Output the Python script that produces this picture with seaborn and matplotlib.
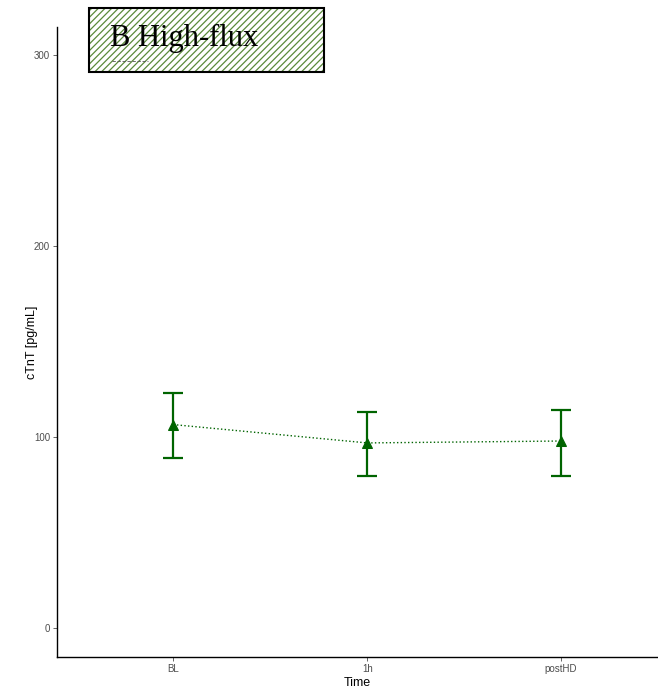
import matplotlib
matplotlib.use("Agg")
import matplotlib.pyplot as plt
import seaborn as sns
import pandas as pd
from matplotlib.patches import Rectangle

times = ["BL", "1h", "postHD"]
means = [106.5, 96.9, 97.9]
upper = [123.3, 113.3, 114.4]
lower = [89.0, 79.8, 79.8]
yticks = [0, 100, 200, 300]

sns.set_style("white")
plt.rcParams['font.family'] = ['Liberation Sans', 'DejaVu Sans']
plt.rcParams['hatch.linewidth'] = 0.9
plt.rcParams['text.color'] = 'black'
plt.rcParams['axes.labelcolor'] = 'black'

df = pd.DataFrame({"Time": times, "cTnT": means})

fig = plt.figure(figsize=(6.58, 6.92), dpi=100)
ax = fig.add_axes([57 / 658, 35 / 692, 601 / 658, 630 / 692])

green = "#006400"
sns.lineplot(data=df, x="Time", y="cTnT", ax=ax, color=green, linestyle=":",
             linewidth=1.0, marker="^", markersize=7, markeredgecolor=green, sort=False)
yerr = [[m - l for m, l in zip(means, lower)], [u - m for m, u in zip(means, upper)]]
ax.errorbar(times, means, yerr=yerr, fmt="none", ecolor=green, elinewidth=1.6,
            capsize=7.5, capthick=1.6)

ax.set_xlim(-0.6, 2.5)
ax.set_ylim(-15.2, 314.7)
ax.set_yticks(yticks)
ax.set_xlabel("Time", fontsize=9, labelpad=2, color="black")
ax.set_ylabel("cTnT [pg/mL]", fontsize=9, labelpad=-3, color="black")
ax.tick_params(axis="both", labelsize=7, colors="#4d4d4d", length=3, width=0.6,
               direction="out", left=True, bottom=True, pad=2)
for s in ["top", "right"]:
    ax.spines[s].set_visible(False)
for s in ["left", "bottom"]:
    ax.spines[s].set_color("black")
    ax.spines[s].set_linewidth(1.0)

# title box
x0, y0, w, h = 89 / 658, 1 - 72 / 692, (324 - 89) / 658, (72 - 8) / 692
fig.patches.append(Rectangle((x0, y0), w, h, transform=fig.transFigure,
                             facecolor="white", edgecolor="#5a8a3a", hatch="/////",
                             linewidth=0, zorder=5))
fig.patches.append(Rectangle((x0, y0), w, h, transform=fig.transFigure,
                             facecolor="none", edgecolor="black", linewidth=1.5, zorder=6))
fig.text(110 / 658, 1 - 38 / 692, "B High-flux", fontsize=22, family="Liberation Serif",
         va="center", ha="left", zorder=7, color="black")
fig.lines.append(plt.Line2D([112 / 658, 148 / 658], [1 - 61 / 692, 1 - 61 / 692],
                            transform=fig.transFigure, color="#555555", linewidth=0.6,
                            linestyle=(0, (4, 2)), zorder=7))

fig.savefig("out.png", dpi=100)
